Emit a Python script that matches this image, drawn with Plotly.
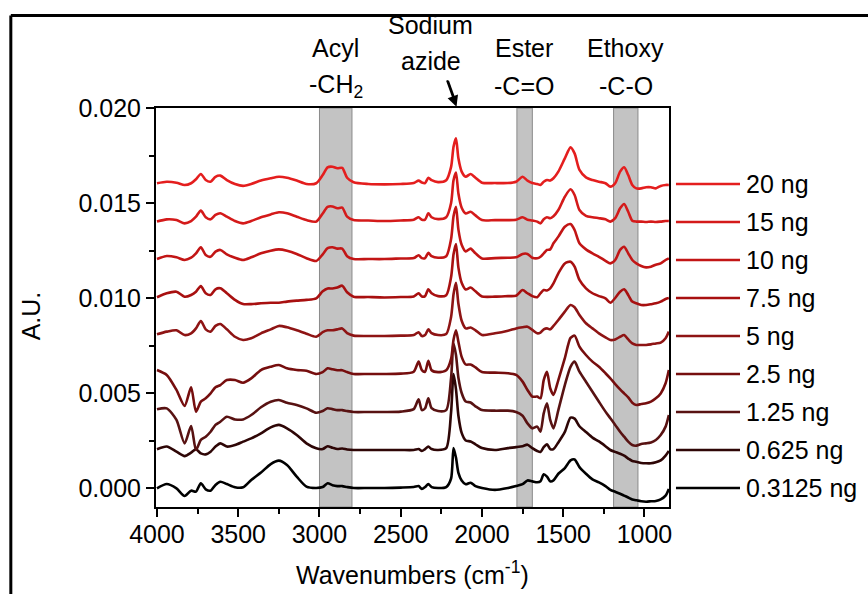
import plotly.graph_objects as go

# ---------------- data (relative absorbance in mA.U., offset per trace) ----------------
wavenumbers = [4000, 3940, 3880, 3830, 3790, 3760, 3730, 3700, 3670, 3640,
               3610, 3570, 3520, 3470, 3420, 3360, 3300, 3250, 3200, 3140,
               3080, 3020, 2980, 2950, 2920, 2890, 2860, 2830, 2790, 2700,
               2600, 2500, 2420, 2390, 2370, 2350, 2330, 2310, 2270, 2220,
               2190, 2175, 2160, 2145, 2125, 2100, 2070, 2040, 2000, 1920,
               1840, 1790, 1750, 1720, 1690, 1660, 1640, 1620, 1600, 1580,
               1560, 1530, 1490, 1455, 1430, 1400, 1360, 1320, 1280, 1240,
               1210, 1180, 1150, 1125, 1100, 1075, 1050, 1020, 990, 960,
               930, 900, 870, 850]

s_20 = [0.04, 0.12, 0.07, -0.05, 0.04, 0.25, 0.53, 0.21, 0.12, 0.38,
        0.44, 0.21, 0.0, -0.1, 0.0, 0.18, 0.3, 0.38, 0.33, 0.18,
        0.0, 0.04, 0.47, 0.88, 0.91, 0.83, 0.85, 0.33, 0.09, 0.0,
        -0.02, 0.0, 0.05, 0.18, 0.08, 0.05, 0.33, 0.2, 0.1, 0.2,
        0.9, 1.96, 2.4, 1.35, 0.65, 0.38, 0.53, 0.33, 0.07, 0.05,
        0.05, 0.12, 0.38, 0.18, 0.05, 0.0, -0.05, 0.12, 0.21, 0.18,
        0.3, 0.65, 1.35, 1.93, 1.61, 0.74, 0.35, 0.21, 0.12, 0.04,
        -0.14, 0.04, 0.65, 0.88, 0.47, -0.05, -0.23, -0.23, -0.17, -0.17,
        -0.23, -0.1, -0.05, -0.05]
s_15 = [0.02, 0.14, 0.1, -0.07, 0.05, 0.28, 0.6, 0.25, 0.14, 0.37,
        0.46, 0.28, 0.05, -0.07, 0.05, 0.25, 0.4, 0.51, 0.46, 0.28,
        0.1, 0.02, 0.45, 0.8, 0.82, 0.72, 0.76, 0.28, 0.1, 0.08,
        0.05, 0.08, 0.12, 0.25, 0.12, 0.12, 0.46, 0.25, 0.15, 0.25,
        1.0, 2.2, 2.6, 1.5, 0.75, 0.45, 0.54, 0.35, 0.1, 0.1,
        0.1, 0.12, 0.25, 0.12, 0.08, 0.02, -0.07, 0.15, 0.25, 0.2,
        0.3, 0.63, 1.33, 1.72, 1.42, 0.63, 0.32, 0.25, 0.2, 0.14,
        0.02, 0.2, 0.72, 0.95, 0.54, 0.07, 0.02, 0.02, 0.0, 0.02,
        0.0, 0.02, 0.05, 0.05]
s_10 = [0.05, 0.21, 0.14, 0.0, 0.12, 0.35, 0.67, 0.26, 0.17, 0.44,
        0.53, 0.3, 0.12, 0.0, 0.14, 0.35, 0.49, 0.56, 0.49, 0.32,
        0.09, -0.05, 0.3, 0.62, 0.67, 0.6, 0.6, 0.2, 0.05, 0.05,
        0.05, 0.08, 0.1, 0.25, 0.1, 0.1, 0.38, 0.2, 0.12, 0.2,
        1.1, 2.3, 2.8, 1.6, 0.8, 0.45, 0.6, 0.35, 0.08, 0.1,
        0.12, 0.14, 0.32, 0.32, 0.12, 0.09, 0.17, 0.35, 0.53, 0.56,
        0.88, 1.23, 1.75, 1.89, 1.58, 0.88, 0.56, 0.35, 0.17, -0.04,
        -0.18, 0.0, 0.53, 0.7, 0.35, 0.0, -0.18, -0.32, -0.39, -0.35,
        -0.25, -0.18, 0.0, 0.09]
s_7_5 = [0.04, 0.25, 0.33, 0.07, 0.16, 0.33, 0.63, 0.25, 0.16, 0.46,
         0.51, 0.25, -0.1, -0.32, -0.32, -0.28, -0.25, -0.25, -0.19, -0.14,
         -0.1, -0.02, 0.35, 0.5, 0.5, 0.55, 0.65, 0.3, 0.07, 0.05,
         0.03, 0.05, 0.08, 0.25, 0.08, 0.1, 0.46, 0.25, 0.1, 0.15,
         1.1, 2.3, 2.84, 1.6, 0.8, 0.45, 0.55, 0.35, 0.08, 0.07,
         0.1, 0.12, 0.42, 0.25, 0.1, 0.04, 0.25, 0.42, 0.4, 0.51,
         0.77, 1.3, 1.82, 1.91, 1.65, 0.95, 0.51, 0.25, 0.1, -0.02,
         -0.25, 0.0, 0.33, 0.46, 0.16, -0.19, -0.28, -0.37, -0.37, -0.33,
         -0.28, -0.19, -0.05, 0.0]
s_5 = [0.09, 0.23, 0.3, 0.05, 0.14, 0.4, 0.79, 0.35, 0.23, 0.53,
       0.63, 0.35, -0.04, -0.21, -0.12, 0.14, 0.35, 0.53, 0.46, 0.3,
       0.12, -0.04, 0.2, 0.3, 0.3, 0.35, 0.4, 0.15, 0.02, 0.0,
       0.0, 0.02, 0.05, 0.2, 0.0, 0.05, 0.35, 0.15, 0.05, 0.1,
       1.0, 2.2, 2.8, 1.7, 0.8, 0.4, 0.45, 0.3, 0.05, 0.14,
       0.28, 0.4, 0.46, 0.49, 0.32, 0.14, 0.18, 0.35, 0.4, 0.35,
       0.53, 0.84, 1.28, 1.63, 1.51, 1.1, 0.67, 0.4, 0.14, -0.07,
       -0.21, -0.18, -0.04, 0.05, -0.18, -0.39, -0.47, -0.47, -0.47, -0.44,
       -0.39, -0.35, -0.12, 0.23]
s_2_5 = [0.21, -0.05, -0.84, -1.68, -0.7, -1.98, -1.45, -1.28, -1.02, -0.7,
         -0.58, -0.32, -0.32, -0.46, -0.23, 0.21, 0.38, 0.47, 0.3, 0.21,
         0.17, 0.0, 0.1, 0.3, 0.25, 0.2, 0.2, 0.1, 0.0, 0.0,
         0.0, 0.02, 0.12, 0.65, 0.21, 0.12, 0.7, 0.2, 0.1, 0.2,
         0.8, 1.8, 2.3, 1.7, 0.9, 0.5, 0.5, 0.35, 0.1, 0.07,
         0.04, -0.05, -0.4, -0.84, -1.19, -1.19, -1.28, -0.32, 0.12, -0.75,
         -1.1, -0.32, 0.83, 1.9, 2.02, 1.44, 1.0, 0.65, 0.38, 0.04,
         -0.23, -0.53, -0.81, -1.02, -1.23, -1.51, -1.63, -1.58, -1.54, -1.45,
         -1.28, -1.02, -0.49, 0.21]
s_1_25 = [0.14, 0.19, -0.42, -1.65, -0.74, -2.0, -1.47, -1.3, -1.04, -0.68,
          -0.51, -0.25, -0.39, -0.39, -0.16, 0.25, 0.54, 0.63, 0.49, 0.37,
          0.19, -0.04, 0.05, 0.2, 0.15, 0.1, 0.1, 0.05, 0.0, 0.0,
          0.0, 0.02, 0.15, 0.67, 0.1, 0.2, 0.72, 0.2, 0.05, 0.1,
          1.8, 3.6, 3.0, 1.8, 1.0, 0.55, 0.5, 0.3, 0.1, 0.07,
          0.07, 0.0, -0.2, -0.6, -0.86, -0.77, -1.04, -0.07, 0.46, -0.42,
          -0.86, 0.1, 1.42, 2.38, 2.65, 2.12, 1.59, 1.07, 0.54, 0.02,
          -0.33, -0.68, -1.04, -1.3, -1.56, -1.74, -1.77, -1.68, -1.65, -1.6,
          -1.47, -1.21, -0.77, -0.16]
s_0_625 = [0.04, 0.18, -0.09, -0.32, -0.14, 0.04, -0.18, -0.23, -0.09, 0.18,
           0.35, 0.18, 0.26, 0.44, 0.61, 0.88, 1.19, 1.32, 1.14, 0.79,
           0.35, 0.09, 0.05, 0.2, 0.12, 0.05, 0.08, 0.03, 0.0, 0.0,
           0.0, 0.0, 0.0, 0.05, -0.05, 0.05, 0.18, 0.05, 0.0, 0.1,
           2.0, 4.0, 3.2, 1.8, 0.9, 0.5, 0.45, 0.3, 0.1, 0.0,
           0.1, 0.15, 0.2, 0.28, 0.1, -0.05, -0.1, 0.15, 0.3, 0.05,
           0.05, 0.4, 0.95, 1.7, 1.65, 1.25, 0.95, 0.65, 0.45, 0.2,
           0.0, -0.1, -0.2, -0.3, -0.45, -0.58, -0.62, -0.68, -0.7, -0.7,
           -0.65, -0.55, -0.3, -0.05]
s_0_3125 = [-0.02, 0.21, -0.02, -0.42, -0.14, -0.19, 0.25, -0.07, -0.14, 0.16,
            0.33, 0.21, 0.04, 0.04, 0.42, 0.81, 1.26, 1.44, 1.21, 0.6,
            0.07, 0.0, 0.05, 0.25, 0.15, 0.1, 0.1, 0.05, 0.0, 0.0,
            0.0, 0.02, 0.05, 0.1, -0.05, 0.05, 0.21, 0.05, 0.0, 0.05,
            0.5, 2.1, 1.6, 0.8, 0.4, 0.2, 0.28, 0.1, 0.0, -0.1,
            0.0, 0.1, 0.2, 0.4, 0.35, 0.3, 0.35, 0.72, 0.6, 0.35,
            0.4, 0.75, 1.05, 1.45, 1.5, 1.1, 0.75, 0.45, 0.3, 0.1,
            -0.1, -0.2, -0.3, -0.4, -0.5, -0.6, -0.65, -0.7, -0.72, -0.7,
            -0.68, -0.6, -0.4, -0.05]

labels = ["0.3125 ng", "0.625 ng", "1.25 ng", "2.5 ng", "5 ng",
          "7.5 ng", "10 ng", "15 ng", "20 ng"]
offsets_mAU = [0, 2, 4, 6, 8, 10, 12, 14, 16]
series = [s_0_3125, s_0_625, s_1_25, s_2_5, s_5, s_7_5, s_10, s_15, s_20]
colors = ["#000000", "#2e0606", "#581212", "#760e0e", "#8e1414",
          "#a81010", "#c21515", "#d41a1a", "#e41e1e"]

band_labels = [("Acyl", "-CH<sub>2</sub>", 2900), ("Ester", "-C=O", 1740),
               ("Ethoxy", "-C-O", 1115)]
band_ranges = [(3000, 2800), (1785, 1690), (1190, 1040)]

x_range = [4006, 849]
y_range = [-0.001, 0.020]

FONT = "Liberation Sans, Arial, sans-serif"

fig = go.Figure()

for lab, off, ser, col in zip(labels, offsets_mAU, series, colors):
    yvals = [(v + off) / 1000.0 for v in ser]
    fig.add_trace(go.Scatter(x=wavenumbers, y=yvals, mode="lines", name=lab,
                             line=dict(color=col, width=2.6, shape="spline",
                                       smoothing=0.7),
                             showlegend=False, hoverinfo="skip"))

shapes = []
for lo, hi in band_ranges:
    shapes.append(dict(type="rect", xref="x", yref="paper", x0=lo, x1=hi,
                       y0=0, y1=1, fillcolor="#c3c3c3",
                       line=dict(color="#8a8a8a", width=1), layer="below"))

# custom legend lines on the right, at each trace's offset
annotations = []
for lab, off, col in zip(labels, offsets_mAU, colors):
    shapes.append(dict(type="line", xref="paper", yref="y",
                       x0=1.0136, x1=1.1384, y0=off / 1000.0, y1=off / 1000.0,
                       line=dict(color=col, width=2.6)))
    annotations.append(dict(text=lab, xref="paper", yref="y", x=1.146,
                            y=off / 1000.0, xanchor="left", yanchor="middle",
                            showarrow=False,
                            font=dict(family=FONT, size=25, color="black")))

# outer frame (left and top edges visible)
shapes.append(dict(type="line", xref="paper", yref="paper", x0=-0.283, x1=-0.283,
                   y0=-0.3, y1=1.232, line=dict(color="black", width=3)))
shapes.append(dict(type="line", xref="paper", yref="paper", x0=-0.283, x1=1.45,
                   y0=1.232, y1=1.232, line=dict(color="black", width=3)))

# azide arrow (line + head)
shapes.append(dict(type="line", xref="paper", yref="paper",
                   x0=0.5692, x1=0.5848, y0=1.068, y1=1.012,
                   line=dict(color="black", width=2)))

for top, bottom, xpos in band_labels:
    annotations.append(dict(text=top, xref="x", yref="paper", x=xpos, y=1.150,
                            showarrow=False, xanchor="center", yanchor="middle",
                            font=dict(family=FONT, size=25, color="black")))
    annotations.append(dict(text=bottom, xref="x", yref="paper", x=xpos, y=1.055,
                            showarrow=False, xanchor="center", yanchor="middle",
                            font=dict(family=FONT, size=25, color="black")))

annotations.append(dict(text="Sodium", xref="paper", yref="paper", x=0.536, y=1.208,
                        showarrow=False, xanchor="center", yanchor="middle",
                        font=dict(family=FONT, size=25, color="black")))
annotations.append(dict(text="azide", xref="paper", yref="paper", x=0.536, y=1.118,
                        showarrow=False, xanchor="center", yanchor="middle",
                        font=dict(family=FONT, size=25, color="black")))
annotations.append(dict(text="", xref="paper", yref="paper", x=0.5858, y=1.003,
                        showarrow=True, ax=-10, ay=-28, arrowhead=2,
                        arrowsize=1.1, arrowwidth=2, arrowcolor="black"))

annotations.append(dict(text="Wavenumbers (cm<sup>-1</sup>)", xref="paper",
                        yref="paper", x=0.5, y=-0.166, showarrow=False,
                        xanchor="center", yanchor="middle",
                        font=dict(family=FONT, size=25, color="black")))
annotations.append(dict(text="A.U.", xref="paper", yref="paper", x=-0.242, y=0.48,
                        showarrow=False, xanchor="center", yanchor="middle",
                        textangle=-90,
                        font=dict(family=FONT, size=25, color="black")))

fig.update_layout(
    width=868, height=594,
    margin=dict(l=156, r=199, t=108, b=87),
    paper_bgcolor="white", plot_bgcolor="white",
    shapes=shapes, annotations=annotations,
    font=dict(family=FONT, size=25, color="black"),
)
fig.update_xaxes(range=x_range, showgrid=False, zeroline=False,
                 showline=True, linecolor="black", linewidth=2, mirror=True,
                 ticks="outside", ticklen=8, tickwidth=2, tickcolor="black",
                 tick0=0, dtick=500, ticklabelstandoff=-4,
                 minor=dict(ticks="outside", ticklen=5, tickwidth=2,
                            tickcolor="black", dtick=250, tick0=0),
                 tickfont=dict(family=FONT, size=25, color="black"))
fig.update_yaxes(range=y_range, showgrid=False, zeroline=False,
                 showline=True, linecolor="black", linewidth=2, mirror=True,
                 ticks="outside", ticklen=8, tickwidth=2, tickcolor="black",
                 tick0=0, dtick=0.005, tickformat=".3f",
                 minor=dict(ticks="outside", ticklen=5, tickwidth=2,
                            tickcolor="black", dtick=0.0025, tick0=0),
                 tickfont=dict(family=FONT, size=25, color="black"))

fig.write_html("out.html")
